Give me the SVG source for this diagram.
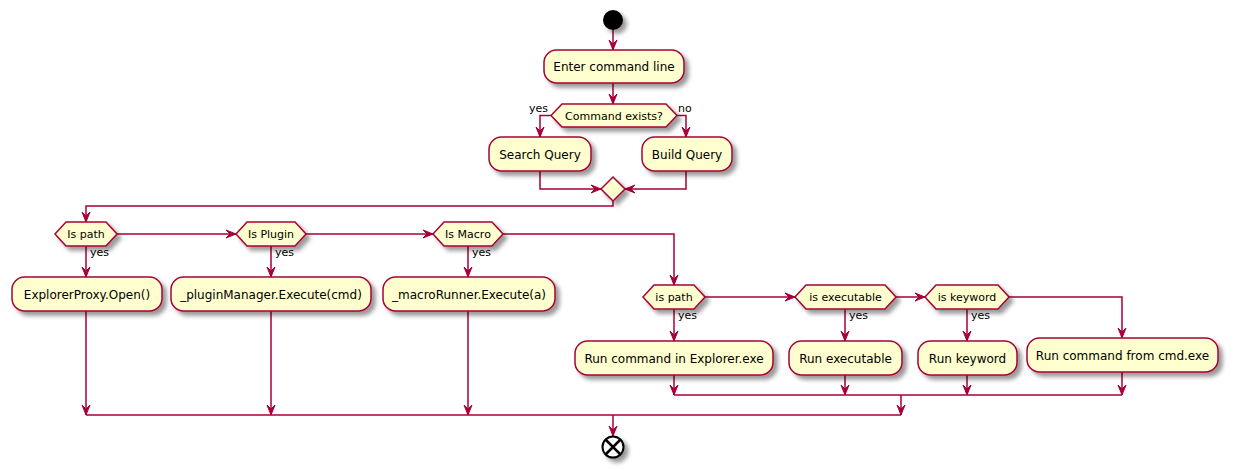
<svg xmlns="http://www.w3.org/2000/svg" width="1234" height="471" viewBox="0 0 1234 471">
<style>
.act{fill:#FEFECE;stroke:#A80036;stroke-width:1.5;filter:url(#sh)}
.t{font-family:"DejaVu Sans",sans-serif;font-size:12px;fill:#000;text-anchor:middle}
.d{font-family:"DejaVu Sans",sans-serif;font-size:11px;fill:#000;text-anchor:middle}
.l{font-family:"DejaVu Sans",sans-serif;font-size:11px;fill:#000}
.c{fill:none;stroke:#A80036;stroke-width:1.5}
</style>
<defs>
<filter id="sh" x="-1" y="-1" width="300%" height="300%">
<feGaussianBlur in="SourceAlpha" stdDeviation="2"/>
<feColorMatrix type="matrix" values="0 0 0 0 0 0 0 0 0 0 0 0 0 0 0 0 0 0 .4 0"/>
<feOffset dx="4" dy="4" result="s"/>
<feBlend in="SourceGraphic" in2="s" mode="normal"/>
</filter>
<marker id="ar" markerWidth="10" markerHeight="10" refX="10" refY="4" orient="auto" markerUnits="userSpaceOnUse" overflow="visible">
<path d="M0,0 L10,4 L0,8 L4,4 Z" fill="#A80036" stroke="#A80036" stroke-width="1"/>
</marker>
</defs>
<rect width="1234" height="471" fill="#FFFFFF"/>
<g id="connectors">
<path class="c" marker-end="url(#ar)" d="M613,30 L613,50"/>
<path class="c" marker-end="url(#ar)" d="M613,83 L613,104"/>
<path class="c" marker-end="url(#ar)" d="M551,115.5 L540,115.5 L540,137"/>
<path class="c" marker-end="url(#ar)" d="M677,115.5 L686,115.5 L686,137"/>
<path class="c" marker-end="url(#ar)" d="M540,171 L540,189 L601,189"/>
<path class="c" marker-end="url(#ar)" d="M686,171 L686,189 L625,189"/>
<path class="c" marker-end="url(#ar)" d="M613,201 L613,206 L86,206 L86,222"/>
<path class="c" marker-end="url(#ar)" d="M86,246 L86,277"/>
<path class="c" marker-end="url(#ar)" d="M117,234 L236,234"/>
<path class="c" marker-end="url(#ar)" d="M271,246 L271,277"/>
<path class="c" marker-end="url(#ar)" d="M306,234 L433,234"/>
<path class="c" marker-end="url(#ar)" d="M468,246 L468,277"/>
<path class="c" marker-end="url(#ar)" d="M503,234 L674,234 L674,285"/>
<path class="c" marker-end="url(#ar)" d="M674,309 L674,341"/>
<path class="c" marker-end="url(#ar)" d="M705,297 L795,297"/>
<path class="c" marker-end="url(#ar)" d="M845,309 L845,341"/>
<path class="c" marker-end="url(#ar)" d="M896,297 L925,297"/>
<path class="c" marker-end="url(#ar)" d="M967,309 L967,341"/>
<path class="c" marker-end="url(#ar)" d="M1009,297 L1122,297 L1122,338"/>
<path class="c" marker-end="url(#ar)" d="M674,375 L674,395"/>
<path class="c" marker-end="url(#ar)" d="M845,375 L845,395"/>
<path class="c" marker-end="url(#ar)" d="M967,375 L967,395"/>
<path class="c" marker-end="url(#ar)" d="M1122,372 L1122,395"/>
<path class="c" d="M674,395 L1122,395"/>
<path class="c" marker-end="url(#ar)" d="M901,395 L901,415"/>
<path class="c" marker-end="url(#ar)" d="M86,311 L86,415"/>
<path class="c" marker-end="url(#ar)" d="M271,311 L271,415"/>
<path class="c" marker-end="url(#ar)" d="M468,311 L468,415"/>
<path class="c" d="M86,415 L901,415"/>
<path class="c" marker-end="url(#ar)" d="M613,415 L613,436"/>
<text class="l" x="529" y="112">yes</text>
<text class="l" x="678" y="112">no</text>
<text class="l" x="90" y="256">yes</text>
<text class="l" x="275" y="256">yes</text>
<text class="l" x="472" y="256">yes</text>
<text class="l" x="678" y="319">yes</text>
<text class="l" x="849" y="319">yes</text>
<text class="l" x="971" y="319">yes</text>
</g>
<g id="start"><circle cx="613" cy="20" r="10" fill="#000" filter="url(#sh)"/></g>
<g id="enter"><rect class="act" x="544" y="50" width="140" height="33" rx="12.5"/><text class="t" x="614" y="71">Enter command line</text></g>
<g id="cmdexists"><polygon class="act" points="551,115.5 562,104 666,104 677,115.5 666,127 562,127"/><text class="d" x="614" y="119.5">Command exists?</text></g>
<g id="search"><rect class="act" x="489" y="137" width="102" height="34" rx="12.5"/><text class="t" x="540" y="158.5">Search Query</text></g>
<g id="build"><rect class="act" x="642" y="137" width="90" height="34" rx="12.5"/><text class="t" x="687" y="158.5">Build Query</text></g>
<g id="merge"><polygon class="act" points="601,189 613,177 625,189 613,201"/></g>
<g id="ispath"><polygon class="act" points="55,234 66,222 106,222 117,234 106,246 66,246"/><text class="d" x="86" y="238">Is path</text></g>
<g id="explorer"><rect class="act" x="12" y="277" width="150" height="34" rx="12.5"/><text class="t" x="87" y="298.5">ExplorerProxy.Open()</text></g>
<g id="isplugin"><polygon class="act" points="236,234 247,222 295,222 306,234 295,246 247,246"/><text class="d" x="271" y="238">Is Plugin</text></g>
<g id="plugin"><rect class="act" x="171" y="277" width="200" height="34" rx="12.5"/><text class="t" x="271" y="298.5">_pluginManager.Execute(cmd)</text></g>
<g id="ismacro"><polygon class="act" points="433,234 444,222 492,222 503,234 492,246 444,246"/><text class="d" x="468" y="238">Is Macro</text></g>
<g id="macro"><rect class="act" x="383" y="277" width="172" height="34" rx="12.5"/><text class="t" x="469" y="298.5">_macroRunner.Execute(a)</text></g>
<g id="ispath2"><polygon class="act" points="643,297 654,285 694,285 705,297 694,309 654,309"/><text class="d" x="674" y="301">is path</text></g>
<g id="runexplorer"><rect class="act" x="575" y="341" width="198" height="34" rx="12.5"/><text class="t" x="674" y="362.5">Run command in Explorer.exe</text></g>
<g id="isexec"><polygon class="act" points="795,297 806,285 885,285 896,297 885,309 806,309"/><text class="d" x="845.5" y="301">is executable</text></g>
<g id="runexec"><rect class="act" x="789" y="341" width="113" height="34" rx="12.5"/><text class="t" x="845.5" y="362.5">Run executable</text></g>
<g id="iskeyword"><polygon class="act" points="925,297 936,285 998,285 1009,297 998,309 936,309"/><text class="d" x="967" y="301">is keyword</text></g>
<g id="runkeyword"><rect class="act" x="918" y="341" width="99" height="34" rx="12.5"/><text class="t" x="967.5" y="362.5">Run keyword</text></g>
<g id="runcmd"><rect class="act" x="1027" y="338" width="191" height="34" rx="12.5"/><text class="t" x="1122.5" y="359.5">Run command from cmd.exe</text></g>
<g id="end"><circle cx="613" cy="447" r="10.5" fill="#FFFFFF" stroke="#000" stroke-width="2" filter="url(#sh)"/><path d="M606,440 L620,454 M620,440 L606,454" stroke="#000" stroke-width="2.5"/></g>
</svg>
